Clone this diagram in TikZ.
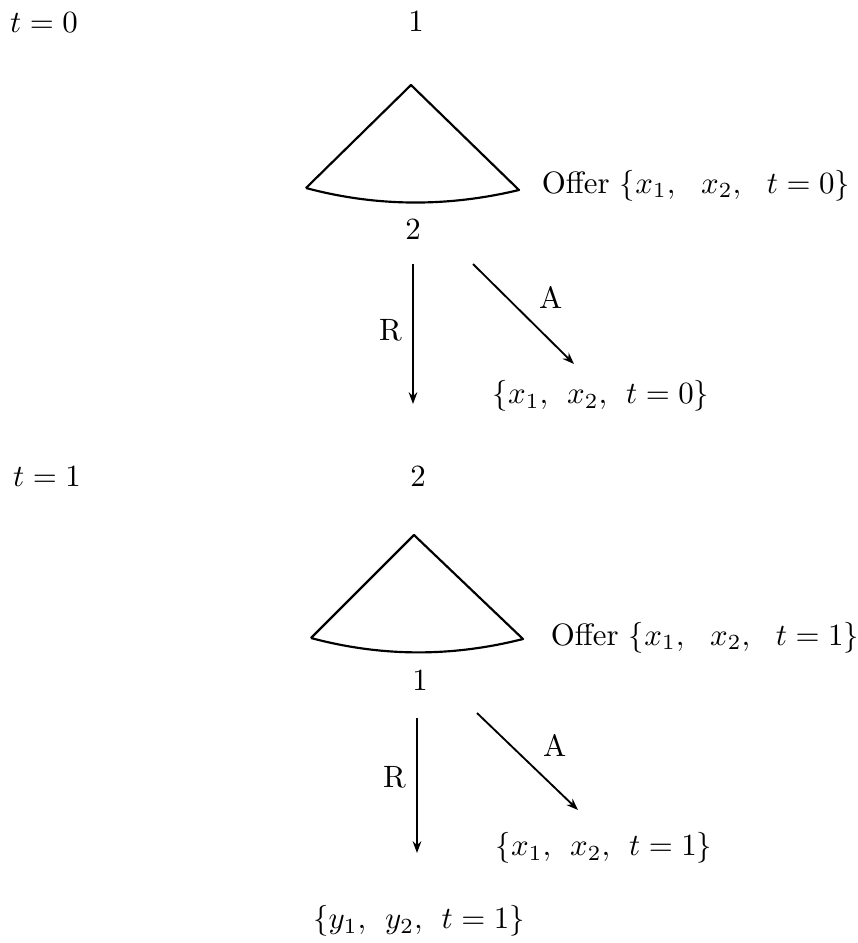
\documentclass[tikz,border=0pt]{standalone}
\usetikzlibrary{arrows.meta}
\begin{document}
\begin{tikzpicture}[x=0.324pt, y=-0.324pt,
    fan/.style={line width=0.7pt, line join=round},
    move/.style={line width=0.6pt, -{Stealth[length=3.8pt, width=2.8pt]}}]
                \useasboundingbox (0,0) rectangle (857,943);
                
                \node (t0) at (44,23) {$t=0$};
                \node (pa) at (416,21) {1};
                \coordinate (apexa) at (411,85);
                \coordinate (lefta) at (306,188);
                \coordinate (righta) at (519,190);
                \draw[fan] (lefta) -- (apexa) -- (righta) .. controls (448,207) and (377,207) .. (lefta);
                \node[anchor=base west] (offera) at (531,193) {Offer $\{x_1,\ \ x_2,\ \ t=0\}$};
                \node (pb) at (413,229) {2};
                \coordinate (ra) at (413,264);
                \coordinate (rb) at (413,404);
                \coordinate (aa) at (473,264);
                \coordinate (ab) at (574,364);
                \draw[move] (ra) -- node[left, pos=0.47]{R} (rb);
                \draw[move] (aa) -- node[right=7pt, pos=0.33]{A} (ab);
                \node (acca) at (601,396) {$\{x_1,\:\:x_2,\:\:t=0\}$};
                
                \node (t1) at (47,477) {$t=1$};
                \node (pc) at (418,476) {2};
                \coordinate (apexb) at (414,535);
                \coordinate (leftb) at (311,638);
                \coordinate (rightb) at (523,639);
                \draw[fan] (leftb) -- (apexb) -- (rightb) .. controls (452,657) and (382,657) .. (leftb);
                \node[anchor=base west] (offerb) at (540,645) {Offer $\{x_1,\ \ x_2,\ \ t=1\}$};
                \node (pd) at (420,680) {1};
                \coordinate (rc) at (417,718);
                \coordinate (rd) at (417,853);
                \coordinate (ac) at (477,713);
                \coordinate (ad) at (578,810);
                \draw[move] (rc) -- node[left, pos=0.44]{R} (rd);
                \draw[move] (ac) -- node[right=7pt, pos=0.33]{A} (ad);
                \node (accb) at (604,848) {$\{x_1,\:\:x_2,\:\:t=1\}$};
                \node (rejb) at (419,921) {$\{y_1,\:\:y_2,\:\:t=1\}$};
            \end{tikzpicture}
\end{document}
